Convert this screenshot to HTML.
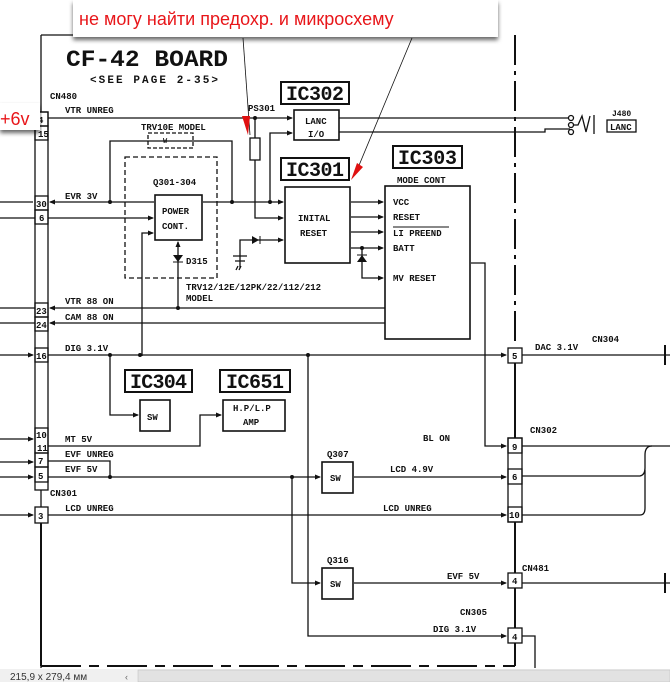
<!DOCTYPE html>
<html><head><meta charset="utf-8"><style>
html,body{margin:0;padding:0;background:#fff;width:670px;height:682px;overflow:hidden}
svg{display:block}
text{font-family:"Liberation Mono",monospace;font-weight:bold;fill:#111}
.s{font-size:9px}
.b{font-family:"Liberation Mono",monospace;font-size:20px;font-weight:bold}
</style></head><body>
<svg width="670" height="682" viewBox="0 0 670 682" xmlns="http://www.w3.org/2000/svg">
<defs>
<marker id="a" markerWidth="6" markerHeight="6" refX="5" refY="3" orient="auto" markerUnits="userSpaceOnUse"><path d="M0,0.5 L6,3 L0,5.5z" fill="#111"/></marker>
<filter id="sh" x="-5%" y="-20%" width="110%" height="160%"><feDropShadow dx="0" dy="3" stdDeviation="2" flood-color="#000" flood-opacity="0.6"/></filter>
</defs>
<g stroke="#111" stroke-width="1.3" fill="none">
<path d="M41,35 H75"/>
<path d="M41,35 V668" />
<path d="M41,666 H515" stroke-width="2" stroke-dasharray="40,8,10,8"/>
<path d="M515,35 V345" stroke-width="2" stroke-dasharray="30,6,4,6"/>
<path d="M515,362 V666" stroke-width="2"/>
<rect x="35" y="112" width="13" height="378" fill="#fff"/>
<rect x="35" y="112" width="13" height="14"/><rect x="35" y="126" width="13" height="14"/>
<rect x="35" y="196" width="13" height="14"/><rect x="35" y="210" width="13" height="14"/>
<rect x="35" y="303" width="13" height="14"/><rect x="35" y="317" width="13" height="14"/>
<rect x="35" y="348" width="13" height="14"/>
<rect x="35" y="428" width="13" height="25"/><rect x="35" y="453" width="13" height="14"/><rect x="35" y="467" width="13" height="15"/>
<rect x="35" y="507" width="13" height="16" fill="#fff"/>
<rect x="508" y="348" width="14" height="15" fill="#fff"/>
<rect x="508" y="438" width="14" height="84" fill="#fff"/>
<rect x="508" y="438" width="14" height="15"/><rect x="508" y="469" width="14" height="15"/><rect x="508" y="507" width="14" height="15"/>
<rect x="508" y="573" width="14" height="15" fill="#fff"/>
<rect x="508" y="628" width="14" height="15" fill="#fff"/>
<rect x="281" y="82" width="68" height="22" stroke-width="2"/>
<rect x="281" y="158" width="68" height="22" stroke-width="2"/>
<rect x="393" y="146" width="69" height="22" stroke-width="2"/>
<rect x="125" y="370" width="67" height="22" stroke-width="2"/>
<rect x="220" y="370" width="70" height="22" stroke-width="2"/>
<rect x="294" y="110" width="45" height="30" stroke-width="1.6"/>
<rect x="285" y="187" width="65" height="76" stroke-width="1.6"/>
<rect x="385" y="186" width="85" height="153" stroke-width="1.6"/>
<rect x="155" y="195" width="47" height="45" stroke-width="1.6"/>
<rect x="140" y="400" width="30" height="31" stroke-width="1.6"/>
<rect x="223" y="400" width="62" height="31" stroke-width="1.6"/>
<rect x="322" y="462" width="31" height="31" stroke-width="1.6"/>
<rect x="322" y="568" width="31" height="31" stroke-width="1.6"/>
<rect x="125" y="157" width="92" height="121" stroke-dasharray="5,3"/>
<rect x="148" y="133" width="45" height="15" stroke-dasharray="4,2"/>
<path d="M48,118 H292" marker-end="url(#a)"/>
<path d="M339,118 H570"/>
<path d="M339,132 H545 V129 H570"/>
<path d="M270,202 V133 H292" marker-end="url(#a)"/>
<path d="M255,118 V138 M255,160 V218 H283" marker-end="url(#a)"/>
<rect x="250" y="138" width="10" height="22"/>
<path d="M203,202 H283" marker-end="url(#a)"/>
<path d="M154,202 H50" marker-end="url(#a)"/>
<path d="M110,202 V141 H232 V202"/>
<path d="M0,202 H33"/>
<path d="M48,218 H153" marker-end="url(#a)"/><path d="M0,218 H35"/>
<path d="M142,356 V233 H153" marker-end="url(#a)"/>
<path d="M178,308 V242" marker-end="url(#a)"/>
<path d="M240,262 V240 H283" marker-end="url(#a)"/>
<path d="M233,256 H247 M235,261 H245"/>
<path d="M351,202 H383" marker-end="url(#a)"/>
<path d="M351,217 H383" marker-end="url(#a)"/>
<path d="M351,232 H383" marker-end="url(#a)"/>
<path d="M351,248 H383" marker-end="url(#a)"/>
<path d="M362,248 V278 H383" marker-end="url(#a)"/>
<path d="M471,263 H485 V446 H506" marker-end="url(#a)"/>
<path d="M385,308 H50" marker-end="url(#a)"/><path d="M0,308 H35"/>
<path d="M385,323 H50" marker-end="url(#a)"/><path d="M0,323 H35"/>
<path d="M0,355 H33" marker-end="url(#a)"/>
<path d="M48,355 H506" marker-end="url(#a)"/>
<path d="M522,355 H670"/>
<path d="M110,355 V415 H138" marker-end="url(#a)"/>
<path d="M0,439 H33" marker-end="url(#a)"/>
<path d="M48,446 H200 V415 H221" marker-end="url(#a)"/>
<path d="M0,462 H33" marker-end="url(#a)"/>
<path d="M48,461 H110 V477"/>
<path d="M0,477 H33" marker-end="url(#a)"/>
<path d="M48,477 H320" marker-end="url(#a)"/>
<path d="M292,477 V583 H320" marker-end="url(#a)"/>
<path d="M354,477 H506" marker-end="url(#a)"/>
<path d="M0,515 H33" marker-end="url(#a)"/>
<path d="M48,515 H506" marker-end="url(#a)"/>
<path d="M308,355 V636 H506" marker-end="url(#a)"/>
<path d="M354,583 H506" marker-end="url(#a)"/>
<path d="M522,583 H670"/>
<path d="M522,446 H670"/>
<path d="M522,476 H640 Q645,475 645,468 V455 Q645,446 652,446"/>
<path d="M522,515 H640 Q645,515 645,508 V470"/>
<path d="M522,636 H535 V668"/>
<path d="M41,523 V666" stroke-width="2"/>
<path d="M665,345 V365 M665,573 V593" stroke-width="2"/>
<circle cx="571" cy="118" r="2.5" fill="#fff"/><circle cx="571" cy="125" r="2.5" fill="#fff"/><circle cx="571" cy="132" r="2.5" fill="#fff"/>
<path d="M574,125 H578 L582,116 L586,132 L590,116 M594,115 V134" />
<rect x="607" y="120" width="29" height="12"/>
<path d="M240,262 V268 M236,270 L238,266 M239,270 L241,266"/>
</g>
<g fill="#111">
<circle cx="255" cy="118" r="2"/><circle cx="110" cy="202" r="2"/><circle cx="232" cy="202" r="2"/><circle cx="270" cy="202" r="2"/>
<circle cx="178" cy="308" r="2"/><circle cx="362" cy="248" r="2"/>
<circle cx="110" cy="355" r="2"/><circle cx="140" cy="355" r="2"/><circle cx="308" cy="355" r="2"/>
<circle cx="110" cy="477" r="2"/><circle cx="292" cy="477" r="2"/>
<path d="M173,255 H183 L178,262z"/><path d="M173,262 H183" stroke="#111"/>
<path d="M252,236 L259,240 L252,244z"/><path d="M260,236 V244" stroke="#111"/>
<path d="M357,262 H367 L362,255z"/><path d="M357,255 H367" stroke="#111"/>
</g>
<text x="66" y="66" style="font-size:23px" textLength="162" lengthAdjust="spacingAndGlyphs">CF-42 BOARD</text>
<text x="90" y="83" style="font-size:11px" textLength="128">&lt;SEE PAGE 2-35&gt;</text>
<text class="s" x="50" y="99">CN480</text>
<text class="s" x="65" y="113">VTR UNREG</text>
<text class="s" x="141" y="130">TRV10E MODEL</text>
<text class="s" x="163" y="143" style="font-size:7px">W</text>
<text class="s" x="153" y="185">Q301-304</text>
<text class="s" x="65" y="199">EVR 3V</text>
<text class="s" x="162" y="214">POWER</text>
<text class="s" x="162" y="229">CONT.</text>
<text class="s" x="186" y="264">D315</text>
<text class="s" x="186" y="290">TRV12/12E/12PK/22/112/212</text>
<text class="s" x="186" y="301">MODEL</text>
<text class="s" x="65" y="304">VTR 88 ON</text>
<text class="s" x="65" y="320">CAM 88 ON</text>
<text class="s" x="65" y="351">DIG 3.1V</text>
<text class="s" x="248" y="111">PS301</text>
<text class="s" x="305" y="124">LANC</text><text class="s" x="308" y="137">I/O</text>
<text class="s" x="298" y="221">INITAL</text><text class="s" x="300" y="236">RESET</text>
<text class="s" x="397" y="183">MODE CONT</text>
<text class="s" x="393" y="205">VCC</text><text class="s" x="393" y="220">RESET</text>
<text class="s" x="393" y="236">LI PREEND</text><path d="M393,227 H449" stroke="#111"/>
<text class="s" x="393" y="251">BATT</text><text class="s" x="393" y="281">MV RESET</text>
<text class="s" x="612" y="116" style="font-size:8px">J480</text>
<text class="s" x="610" y="130">LANC</text>
<text class="s" x="535" y="350">DAC 3.1V</text><text class="s" x="592" y="342">CN304</text>
<text class="s" x="147" y="420">SW</text>
<text class="s" x="233" y="411">H.P/L.P</text><text class="s" x="243" y="425">AMP</text>
<text class="s" x="65" y="442">MT 5V</text>
<text class="s" x="65" y="457">EVF UNREG</text>
<text class="s" x="65" y="472">EVF 5V</text>
<text class="s" x="50" y="496">CN301</text>
<text class="s" x="65" y="511">LCD UNREG</text>
<text class="s" x="423" y="441">BL ON</text>
<text class="s" x="530" y="433">CN302</text>
<text class="s" x="327" y="457">Q307</text><text class="s" x="330" y="481">SW</text>
<text class="s" x="390" y="472">LCD 4.9V</text>
<text class="s" x="383" y="511">LCD UNREG</text>
<text class="s" x="327" y="563">Q316</text><text class="s" x="330" y="587">SW</text>
<text class="s" x="447" y="579">EVF 5V</text><text class="s" x="522" y="571">CN481</text>
<text class="s" x="460" y="615">CN305</text><text class="s" x="433" y="632">DIG 3.1V</text>
<g style="font-size:9px">
<text x="38" y="123">4</text><text x="38" y="137">15</text><text x="36" y="207">30</text><text x="39" y="221">6</text>
<text x="36" y="314">23</text><text x="36" y="328">24</text><text x="36" y="359">16</text>
<text x="36" y="438">10</text><text x="37" y="451">11</text><text x="38" y="464">7</text><text x="38" y="479">5</text><text x="38" y="519">3</text>
<text x="512" y="359">5</text><text x="512" y="450">9</text><text x="512" y="480">6</text><text x="509" y="518">10</text>
<text x="512" y="584">4</text><text x="512" y="640">4</text>
</g>
<text class="b" x="286" y="100" textLength="58">IC302</text>
<text class="b" x="286" y="176" textLength="58">IC301</text>
<text class="b" x="398" y="164" textLength="59">IC303</text>
<text class="b" x="130" y="388" textLength="57">IC304</text>
<text class="b" x="226" y="388" textLength="58">IC651</text>
<rect x="73" y="0" width="425" height="37" fill="#fff" filter="url(#sh)"/>
<text x="79" y="25" style="font-family:'Liberation Sans',sans-serif;font-weight:normal;font-size:18px;fill:#e8161a">не могу найти предохр. и микросхему</text>
<path d="M243,38 L250,135" stroke="#111" stroke-width="0.8"/>
<path d="M242,116 L250,116 L248,135z" fill="#e01010"/>
<path d="M412,38 L355,175" stroke="#111" stroke-width="0.8"/>
<path d="M357,163 L363,167 L351,180z" fill="#e01010"/>
<rect x="0" y="103" width="40" height="27" fill="#fff" filter="url(#sh)"/>
<text x="0" y="125" style="font-family:'Liberation Sans',sans-serif;font-weight:normal;font-size:18px;fill:#e8161a">+6v</text>
<rect x="0" y="669" width="670" height="13" fill="#f0f0f0"/>
<rect x="138" y="670" width="532" height="12" fill="#e2e2e2" stroke="#bbb" stroke-width="0.5"/>
<text x="10" y="680" style="font-family:'Liberation Sans',sans-serif;font-weight:normal;font-size:10px;fill:#333">215,9 x 279,4 мм</text>
<text x="125" y="680" style="font-family:'Liberation Sans',sans-serif;font-weight:normal;font-size:9px;fill:#666">‹</text>
</svg>
</body></html>
